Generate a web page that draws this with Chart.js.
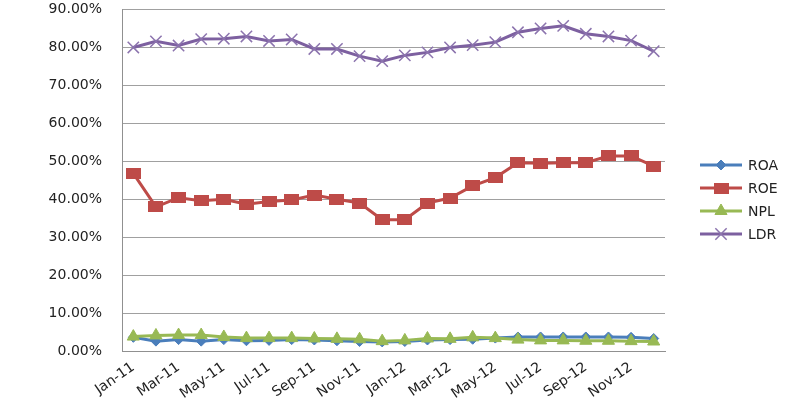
<!DOCTYPE html>
<html>
<head>
<meta charset="utf-8">
<script src="https://cdn.jsdelivr.net/npm/chart.js@4"></script>
<style>
html,body{margin:0;padding:0;background:#fff;}
#wrap{width:794px;height:408px;position:relative;}
</style>
</head>
<body>
<div id="wrap"><canvas id="c" width="794" height="408"></canvas></div>
<script>
const categories = ['Jan-11','Feb-11','Mar-11','Apr-11','May-11','Jun-11','Jul-11','Aug-11','Sep-11','Oct-11','Nov-11','Dec-11',
                    'Jan-12','Feb-12','Mar-12','Apr-12','May-12','Jun-12','Jul-12','Aug-12','Sep-12','Oct-12','Nov-12','Dec-12'];
const roa = [3.6,2.6,3.0,2.6,3.0,2.7,2.8,3.0,2.9,2.7,2.5,2.4, 2.5,2.9,3.0,3.1,3.4,3.7,3.7,3.7,3.7,3.7,3.6,3.3];
const roe = [46.8,38.0,40.4,39.6,40.0,38.7,39.4,39.8,41.1,40.0,39.0,34.6, 34.6,39.0,40.3,43.5,45.7,49.6,49.5,49.6,49.6,51.4,51.4,48.7];
const npl = [3.8,4.1,4.2,4.2,3.7,3.4,3.4,3.4,3.3,3.2,3.1,2.6, 2.8,3.3,3.2,3.6,3.4,3.0,2.8,2.8,2.7,2.7,2.6,2.5];
const ldr = [80.0,81.6,80.5,82.2,82.3,82.9,81.7,82.1,79.6,79.6,77.7,76.4, 77.9,78.7,80.0,80.6,81.4,84.0,85.0,85.7,83.6,82.9,81.8,79.0];
const yTicks = [0,10,20,30,40,50,60,70,80,90];
const seriesNames = ['ROA','ROE','NPL','LDR'];

const FONT = 'DejaVu Sans';
const toFrac = a => a.map(v => v/100);

function makeRect(w, h, color) {
  const c = document.createElement('canvas');
  c.width = w; c.height = h;
  const g = c.getContext('2d');
  g.fillStyle = color; g.fillRect(0, 0, w, h);
  return c;
}
const roeMarker = makeRect(15, 11, '#BE4B48');

const legendPlugin = {
  id: 'customLegend',
  afterDraw(chart) {
    const ctx = chart.ctx;
    const x0 = 700, x1 = 742, tx = 748;
    const ys = [165, 188, 211, 234];
    chart.data.datasets.forEach((ds, i) => {
      const y = ys[i];
      ctx.save();
      ctx.strokeStyle = ds.borderColor;
      ctx.lineWidth = 3;
      ctx.beginPath(); ctx.moveTo(x0, y); ctx.lineTo(x1, y); ctx.stroke();
      ctx.fillStyle = ds.pointBackgroundColor;
      ctx.strokeStyle = ds.pointBorderColor;
      ctx.lineWidth = ds.pointBorderWidth;
      Chart.helpers.drawPoint(ctx, {pointStyle: ds.pointStyle, radius: ds.pointRadius, rotation: 0, borderWidth: ds.pointBorderWidth}, (x0 + x1) / 2, y);
      ctx.fillStyle = '#222';
      ctx.font = '14px ' + FONT;
      ctx.textBaseline = 'middle';
      ctx.textAlign = 'left';
      ctx.fillText(seriesNames[i], tx, y + 1);
      ctx.restore();
    });
  }
};

new Chart(document.getElementById('c'), {
  type: 'line',
  data: {
    labels: categories,
    datasets: [
      {label: seriesNames[0], data: toFrac(roa), borderColor: '#4A7EBB', backgroundColor: '#4A7EBB',
       pointStyle: 'rectRot', pointRadius: 5, pointBackgroundColor: '#4A7EBB', pointBorderColor: '#4A7EBB',
       pointBorderWidth: 1, borderWidth: 3, order: 4},
      {label: seriesNames[1], data: toFrac(roe), borderColor: '#BE4B48', backgroundColor: '#BE4B48',
       pointStyle: roeMarker, pointRadius: 8, pointBackgroundColor: '#BE4B48', pointBorderColor: '#BE4B48',
       pointBorderWidth: 1, borderWidth: 3, order: 3},
      {label: seriesNames[2], data: toFrac(npl), borderColor: '#98B954', backgroundColor: '#98B954',
       pointStyle: 'triangle', pointRadius: 7, pointBackgroundColor: '#98B954', pointBorderColor: '#98B954',
       pointBorderWidth: 1, borderWidth: 3, order: 2},
      {label: seriesNames[3], data: toFrac(ldr), borderColor: '#7D60A0', backgroundColor: '#7D60A0',
       pointStyle: 'crossRot', pointRadius: 8, pointBackgroundColor: '#8C74AE', pointBorderColor: '#8C74AE',
       pointBorderWidth: 1.5, borderWidth: 3, order: 1}
    ]
  },
  options: {
    responsive: false,
    animation: false,
    events: [],
    layout: {padding: {top: 4, right: 129, left: 0, bottom: 0}},
    plugins: {legend: {display: false}, tooltip: {enabled: false}},
    elements: {line: {tension: 0}},
    scales: {
      x: {
        offset: true,
        grid: {display: false, drawTicks: false},
        border: {display: true, color: '#909090', width: 1},
        ticks: {
          autoSkip: false, maxRotation: 35, minRotation: 35, padding: 8,
          color: '#222', font: {family: FONT, size: 14},
          callback: function(v, i) { return i % 2 === 0 ? categories[i] : ''; }
        },
        afterFit(scale) { scale.height = 57; scale.paddingTop = 0; scale.paddingBottom = 0; }
      },
      y: {
        min: 0, max: 0.9,
        afterBuildTicks(scale) { scale.ticks = yTicks.map(v => ({value: v/100})); },
        grid: {color: '#A0A0A0', lineWidth: 1, drawTicks: false},
        border: {display: true, color: '#909090', width: 1},
        ticks: {
          padding: 20, color: '#222', font: {family: FONT, size: 14},
          callback: v => (v*100).toFixed(2) + '%'
        },
        afterFit(scale) { scale.width = 122; scale.paddingTop = 0; scale.paddingBottom = 0; }
      }
    }
  },
  plugins: [legendPlugin]
});
</script>
</body>
</html>
